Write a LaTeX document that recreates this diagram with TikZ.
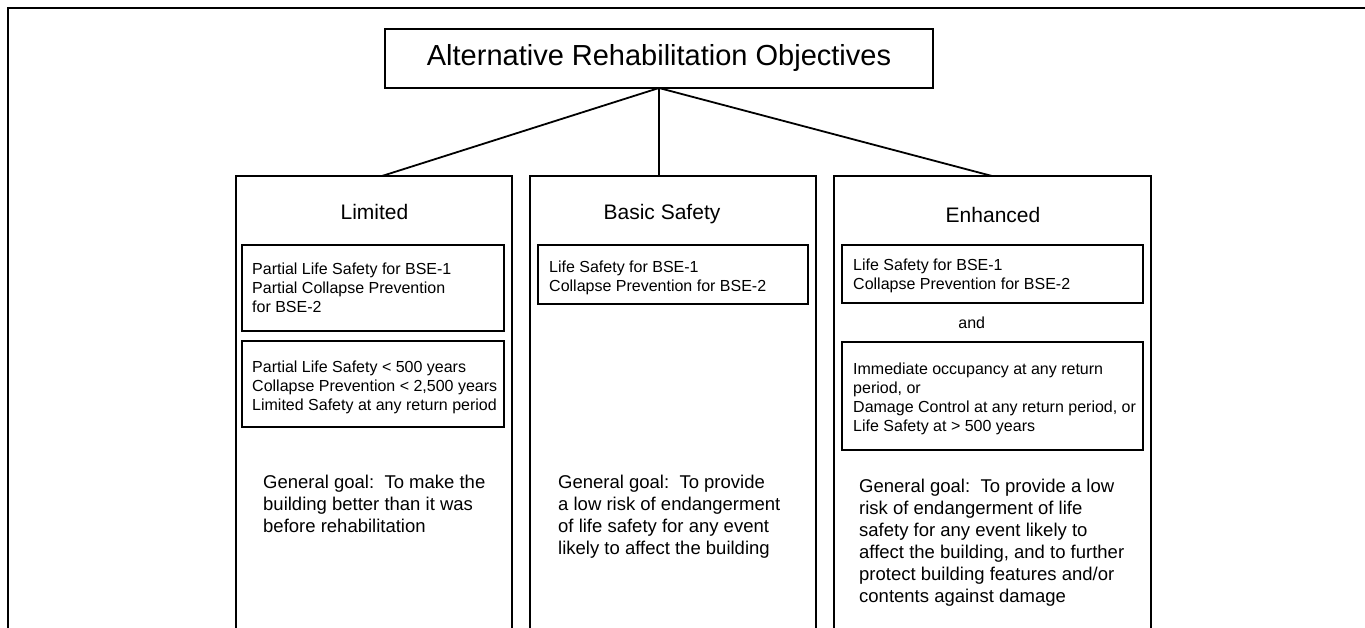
\documentclass[tikz,border=0pt]{standalone}
\usepackage{fontspec}
\setmainfont{Liberation Sans}
\begin{document}
\begin{tikzpicture}[x=1pt,y=-1pt,
  frame/.style={draw, line width=1.8pt, rectangle, inner sep=0pt, outer sep=0pt},
  colbox/.style={frame, anchor=north west},
  subbox/.style={frame, anchor=north west},
  link/.style={line width=1.8pt},
  head/.style={anchor=base, inner sep=0pt, font=\fontsize{21}{25}\selectfont},
  crit/.style={anchor=north west, inner sep=0pt, align=left, font=\fontsize{16}{19}\selectfont},
  goal/.style={anchor=north west, inner sep=0pt, align=left, font=\fontsize{18.5}{22}\selectfont}]
\useasboundingbox (0,0) rectangle (1365,628);
\clip (0,0) rectangle (1365,628);

% outer frame (open to the right and bottom)
\coordinate (frameBL) at (8,660);
\coordinate (frameTL) at (8,8);
\coordinate (frameTR) at (1400,8);
\draw[line width=2pt] (frameBL) -- (frameTL) -- (frameTR);

% title
\node[frame, minimum width=548pt, minimum height=59pt, font=\fontsize{29}{34}\selectfont]
  (title) at (659,58.5) {Alternative Rehabilitation Objectives};

% the three objective columns
\node[colbox, minimum width=276pt, minimum height=480pt] (lim) at (236,176) {};
\node[colbox, minimum width=286pt, minimum height=480pt] (bas) at (530,176) {};
\node[colbox, minimum width=317pt, minimum height=480pt] (enh) at (834,176) {};

% connectors from the title
\coordinate (limtop) at (382,176);
\coordinate (bastop) at (659,176);
\coordinate (enhtop) at (992,176);
\draw[link] (title.south) -- (limtop);
\draw[link] (title.south) -- (bastop);
\draw[link] (title.south) -- (enhtop);

% column headings
\node[head] (limhead) at (374.5,220) {Limited};
\node[head] (bashead) at (662,220) {Basic Safety};
\node[head] (enhhead) at (993,222.5) {Enhanced};

% Limited
\node[subbox, minimum width=262pt, minimum height=86pt] (limA) at (242,245) {};
\node[subbox, minimum width=262pt, minimum height=86pt] (limB) at (242,341) {};
\node[crit] (limAtxt) at (252,263) {Partial Life Safety for BSE-1\\Partial Collapse Prevention\\for BSE-2};
\node[crit] (limBtxt) at (252,361) {Partial Life Safety < 500 years\\Collapse Prevention < 2,500 years\\Limited Safety at any return period};
\node[goal] (limgoal) at (263,475) {General goal:\ \ To make the\\building better than it was\\before rehabilitation};

% Basic Safety
\node[subbox, minimum width=270pt, minimum height=59pt] (basA) at (538,245) {};
\node[crit] (basAtxt) at (549,260.7) {Life Safety for BSE-1\\Collapse Prevention for BSE-2};
\node[goal] (basgoal) at (558,475) {General goal:\ \ To provide\\a low risk of endangerment\\of life safety for any event\\likely to affect the building};

% Enhanced
\node[subbox, minimum width=301pt, minimum height=58pt] (enhA) at (842,245) {};
\node[anchor=base, inner sep=0pt, font=\fontsize{16}{19}\selectfont] (enhand) at (971.7,328.5) {and};
\node[subbox, minimum width=301pt, minimum height=108pt] (enhB) at (842,342) {};
\node[crit] (enhAtxt) at (853,259) {Life Safety for BSE-1\\Collapse Prevention for BSE-2};
\node[crit] (enhBtxt) at (853,363) {Immediate occupancy at any return\\period, or\\Damage Control at any return period, or\\Life Safety at > 500 years};
\node[goal] (enhgoal) at (859,479) {General goal:\ \ To provide a low\\risk of endangerment of life\\safety for any event likely to\\affect the building, and to further\\protect building features and/or\\contents against damage};
\end{tikzpicture}
\end{document}
